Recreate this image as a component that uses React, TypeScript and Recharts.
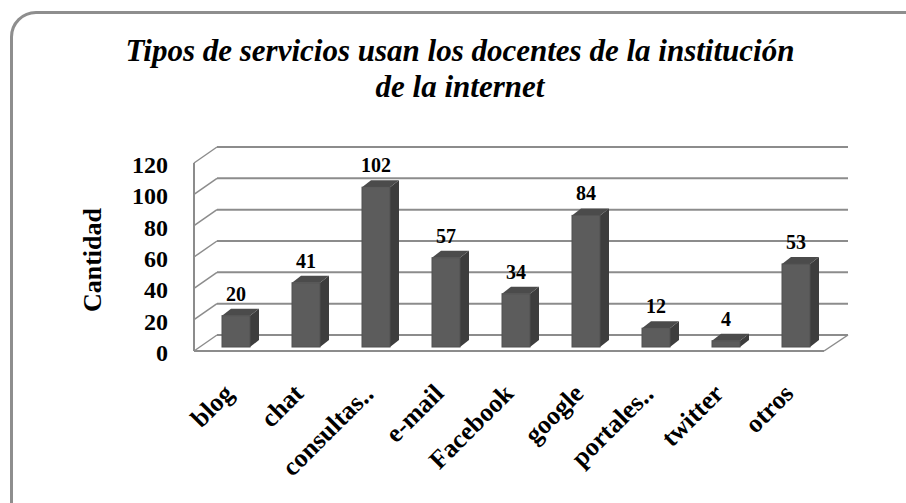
import React from 'react';
import { BarChart, Bar, XAxis, YAxis, CartesianGrid, LabelList, ReferenceLine } from 'recharts';

const categories = ['blog', 'chat', 'consultas\u2025', 'e-mail', 'Facebook', 'google', 'portales\u2025', 'twitter', 'otros'];
const cantidad = [20, 41, 102, 57, 34, 84, 12, 4, 53];
const yTicks = [0, 20, 40, 60, 80, 100, 120];
const titleLines = ['Tipos de servicios usan los docentes de la institución', 'de la internet'];
const yTitle = 'Cantidad';

const data = categories.map((name, i) => ({ name, value: cantidad[i] }));

const FONT = '"Liberation Serif", "Times New Roman", Times, serif';
const GRID = '#8c8c8c';
// pseudo-3d offsets
const DEPTH_X = 9;
const DEPTH_Y = 7;
const FRONT_X = -7;
const FRONT_Y = 4;
const BACK_X = 16;
const BACK_Y = -12;

const Bar3D = (props: any) => {
  const { x, y, width, height } = props;
  if (height == null || width == null) return null;
  return (
    <g>
      <polygon
        points={`${x + width},${y} ${x + width + DEPTH_X},${y - DEPTH_Y} ${x + width + DEPTH_X},${y + height - DEPTH_Y} ${x + width},${y + height}`}
        fill="#3d3d3d"
      />
      <polygon
        points={`${x},${y} ${x + DEPTH_X},${y - DEPTH_Y} ${x + width + DEPTH_X},${y - DEPTH_Y} ${x + width},${y}`}
        fill="#4b4b4b"
      />
      <rect x={x} y={y} width={width} height={height} fill="#5c5c5c" stroke="#505050" strokeWidth={1} />
    </g>
  );
};

const wallLine = (p: any) => {
  const { x1, x2, y1 } = p;
  return (
    <g key={p.key}>
      <line x1={x1 + BACK_X} y1={y1 + BACK_Y} x2={x2 + BACK_X + 1} y2={y1 + BACK_Y} stroke={GRID} strokeWidth={2} />
      <line x1={x1 + FRONT_X} y1={y1 + FRONT_Y} x2={x1 + BACK_X} y2={y1 + BACK_Y} stroke={GRID} strokeWidth={1.5} />
    </g>
  );
};

const floorEdge = (p: any) => {
  const { x2, y2 } = p;
  return (
    <line x1={x2 + FRONT_X} y1={y2 + FRONT_Y} x2={x2 + BACK_X + 1} y2={y2 + BACK_Y} stroke={GRID} strokeWidth={1.5} />
  );
};

const YTick = (p: any) => (
  <text x={p.x - 33} y={p.y + 14} textAnchor="end" fontFamily={FONT} fontWeight="bold" fontSize={24} fill="#000">
    {p.payload.value}
  </text>
);

const XTick = (p: any) => {
  const x = p.x - 1;
  const y = p.y + 48;
  return (
    <text x={x} y={y} transform={`rotate(-45, ${x}, ${y})`} textAnchor="end" fontFamily={FONT} fontWeight="bold" fontSize={26} fill="#000">
      {p.payload.value}
    </text>
  );
};

const ValueLabel = (p: any) => {
  const x = p.x ?? p.viewBox?.x;
  const y = p.y ?? p.viewBox?.y;
  const w = p.width ?? p.viewBox?.width;
  return (
    <text x={x + w / 2} y={y - 15} textAnchor="middle" fontFamily={FONT} fontWeight="bold" fontSize={20} fill="#000">
      {p.value}
    </text>
  );
};

const YTitle = (p: any) => {
  const vb = p.viewBox || {};
  const cx = vb.x - 29;
  const cy = vb.y + vb.height / 2 + 7;
  return (
    <text x={cx} y={cy} transform={`rotate(-90, ${cx}, ${cy})`} textAnchor="middle" dominantBaseline="central" fontFamily={FONT} fontWeight="bold" fontSize={26} fill="#000">
      {yTitle}
    </text>
  );
};

export default function App() {
  return (
    <div style={{ position: 'absolute', left: 0, top: 0, width: 906, height: 503, overflow: 'hidden', background: '#fff' }}>
      <div
        style={{
          position: 'absolute',
          left: 10,
          top: 11,
          width: 920,
          height: 520,
          border: '3px solid #8e8e8e',
          borderRadius: 26,
          boxSizing: 'border-box',
        }}
      />
      <div
        style={{
          position: 'absolute',
          left: 0,
          top: 33,
          width: 920,
          textAlign: 'center',
          fontFamily: FONT,
          fontWeight: 'bold',
          fontStyle: 'italic',
          fontSize: 31,
          lineHeight: '36px',
          color: '#000',
        }}
      >
        {titleLines.map((t) => (
          <div key={t}>{t}</div>
        ))}
      </div>
      <div style={{ position: 'absolute', left: 0, top: 0 }}>
        <BarChart width={906} height={503} data={data} margin={{ top: 159, right: 75, bottom: 56, left: 121 }} barSize={28}>
          <CartesianGrid vertical={false} horizontal={wallLine} />
          <XAxis
            dataKey="name"
            interval={0}
            height={100}
            tickLine={false}
            tickSize={0}
            tickMargin={0}
            tick={XTick}
            axisLine={{ stroke: GRID, strokeWidth: 2, transform: `translate(${FRONT_X},${FRONT_Y})` }}
          />
          <YAxis
            width={80}
            domain={[0, 120]}
            ticks={yTicks}
            interval={0}
            tickLine={false}
            tickSize={0}
            tickMargin={0}
            tick={YTick}
            axisLine={{ stroke: GRID, strokeWidth: 2, transform: `translate(${FRONT_X},${FRONT_Y})` }}
            label={{ content: YTitle }}
          />
          <ReferenceLine y={0} shape={floorEdge} />
          <Bar dataKey="value" shape={Bar3D} isAnimationActive={false}>
            <LabelList dataKey="value" content={ValueLabel} />
          </Bar>
        </BarChart>
      </div>
    </div>
  );
}
